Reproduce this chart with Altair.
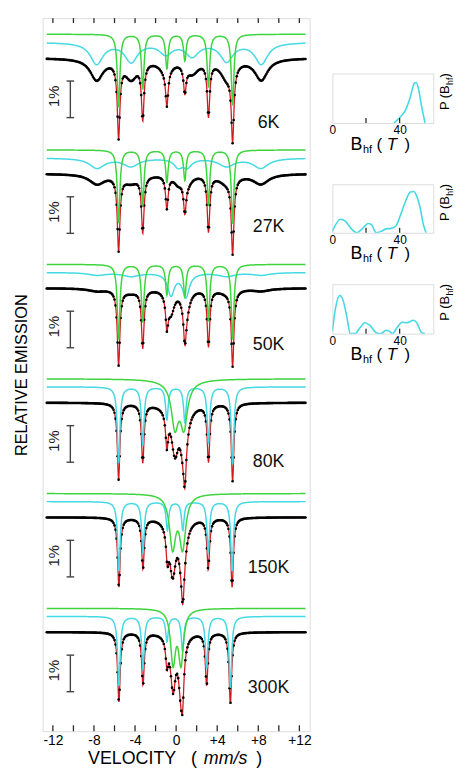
import altair as alt
import numpy as np
import pandas as pd

FONT = "Liberation Sans"
GREEN = "#3ed43e"
CYAN = "#44d9e3"
RED = "#d01c1c"
INK = "#2a2a2a"

# ---------------- main panel: Mossbauer spectra ----------------
temps = ["6K", "27K", "50K", "80K", "150K", "300K"]
data_base = [1.09, 4.255, 7.384, 10.514, 13.65, 16.79]   # % below frame top
label_drop = [1.78, 1.46, 1.55, 1.62, 1.39, 1.53]       # temp label below baseline (%)
GREEN_LIFT = 0.65
CYAN_LIFT = 0.43

# green sub-spectrum lines: position (mm/s), depth (%), half width (mm/s)
green_pos = {
    "6K": [-5.6, -3.25, -0.9, 0.85, 3.15, 5.5],
    "27K": [-5.6, -3.25, -0.9, 0.85, 3.15, 5.5],
    "50K": [-5.6, -3.25, -0.9, 0.85, 3.15, 5.5],
    "80K": [-0.12, 0.76, 0.3],
    "150K": [-0.34, 0.63],
    "300K": [-0.3, 0.47],
}
green_dep = {
    "6K": [2.0, 1.5, 0.95, 0.72, 1.45, 1.95],
    "27K": [2.0, 1.52, 0.88, 0.82, 1.52, 2.02],
    "50K": [2.05, 1.58, 0.83, 0.88, 1.55, 2.05],
    "80K": [1.15, 1.15, 0.12],
    "150K": [1.42, 1.42],
    "300K": [1.44, 1.44],
}
green_hw = {
    "6K": [0.15, 0.15, 0.15, 0.15, 0.15, 0.15],
    "27K": [0.15, 0.15, 0.15, 0.15, 0.15, 0.15],
    "50K": [0.15, 0.15, 0.15, 0.15, 0.15, 0.15],
    "80K": [0.4, 0.4, 1.5],
    "150K": [0.365, 0.365],
    "300K": [0.29, 0.29],
}
# cyan sub-spectrum lines
cyan_pos = {
    "6K": [-7.74, -4.38, -1.0, 1.56, 4.92, 8.29],
    "27K": [-7.7, -4.4, 0.2, 1.1, 4.9, 8.25],
    "50K": [-7.7, -4.4, -0.5, 0.95, 4.9, 8.3],
    "80K": [-5.6, -3.25, -0.9, 0.85, 3.15, 5.5],
    "150K": [-5.57, -3.23, -0.85, 0.65, 3.13, 5.45],
    "300K": [-5.57, -3.23, -0.89, 0.63, 2.97, 5.28],
}
cyan_dep = {
    "6K": [0.58, 0.52, 0.3, 0.36, 0.5, 0.58],
    "27K": [0.27, 0.22, 0.22, 0.22, 0.22, 0.27],
    "50K": [0.07, 0.1, 0.6, 0.65, 0.1, 0.07],
    "80K": [2.08, 1.6, 0.9, 0.95, 1.55, 2.12],
    "150K": [1.9, 1.38, 0.78, 0.78, 1.38, 1.9],
    "300K": [1.9, 1.42, 0.68, 0.95, 1.42, 1.95],
}
cyan_hw = {
    "6K": [0.75, 0.75, 0.75, 0.75, 0.75, 0.75],
    "27K": [0.9, 0.9, 0.5, 0.5, 0.9, 0.9],
    "50K": [1.0, 1.0, 0.4, 0.4, 1.0, 1.0],
    "80K": [0.15, 0.15, 0.15, 0.15, 0.15, 0.15],
    "150K": [0.15, 0.15, 0.15, 0.15, 0.15, 0.15],
    "300K": [0.15, 0.15, 0.15, 0.15, 0.15, 0.15],
}

vel_labels = [-12, -8, -4, 0, 4, 8, 12]
vel_ticks = [-12, -10, -8, -6, -4, -2, 0, 2, 4, 6, 8, 10, 12]

# ---------------- right panels: P(Bhf) ----------------
pB6_B = [36.7, 40.6, 43.5, 46.4, 48.7, 49.9, 51.2, 53.1, 55.1]
pB6_P = [0.0, 0.13, 0.26, 0.53, 0.8, 0.82, 0.69, 0.33, 0.0]
pB27_B = [0, 4.8, 7.7, 11.6, 14.5, 17.4, 21.3, 23.2, 26.1, 29, 31.9, 34.8, 37.7,
          40.6, 43.5, 46.4, 48.3, 50.2, 52.2, 54.1, 55.7]
pB27_P = [0.03, 0.28, 0.24, 0.07, 0.0, 0.07, 0.19, 0.17, 0.0, 0.03, 0.08, 0.09, 0.14,
          0.37, 0.65, 0.84, 0.85, 0.75, 0.51, 0.17, 0.0]
pB50_B = [0, 1.9, 4.3, 6.2, 8.7, 10.6, 13.5, 16.4, 19.3, 22.2, 26.1, 29, 31.9, 33.8,
          35.7, 38.6, 41.5, 44.4, 48.3, 50.2, 53.1, 55]
pB50_P = [0.05, 0.52, 0.77, 0.69, 0.32, 0.0, 0.0, 0.12, 0.22, 0.17, 0.02, 0.0, 0.07, 0.05,
          0.0, 0.13, 0.23, 0.22, 0.27, 0.22, 0.02, 0.0]
bhf_labels = [0, 40]
bhf_ticks = [20, 40]


def lor(v, pos, dep, hw):
    out = np.zeros_like(v)
    for p, d, w in zip(pos, dep, hw):
        out = out + d / (1.0 + ((v - p) / w) ** 2)
    return out


v_fit = np.round(np.arange(-12.6, 12.6001, 0.03), 3)
v_chan = np.round(np.arange(-12.6, 12.6001, 0.1), 2)

g_rows, c_rows, m_rows, d_rows = [], [], [], []
for t, b in zip(temps, data_base):
    g = lor(v_fit, green_pos[t], green_dep[t], green_hw[t])
    c = lor(v_fit, cyan_pos[t], cyan_dep[t], cyan_hw[t])
    g_rows.append(pd.DataFrame({"v": v_fit, "y": -(b - GREEN_LIFT + g), "t": t}))
    c_rows.append(pd.DataFrame({"v": v_fit, "y": -(b - CYAN_LIFT + c), "t": t}))
    m_rows.append(pd.DataFrame({"v": v_fit, "y": -(b + g + c), "t": t}))
    gd = lor(v_chan, green_pos[t], green_dep[t], green_hw[t])
    cd = lor(v_chan, cyan_pos[t], cyan_dep[t], cyan_hw[t])
    d_rows.append(pd.DataFrame({"v": v_chan, "y": -(b + gd + cd), "t": t}))
green_df = pd.concat(g_rows)
cyan_df = pd.concat(c_rows)
model_df = pd.concat(m_rows)
data_df = pd.concat(d_rows)

BAR_V = -10.3
BAR_CAP = 0.37
bar_df = pd.DataFrame({
    "t": temps,
    "yt": [-(b + 0.63) for b in data_base],
    "yb": [-(b + 1.63) for b in data_base],
    "ym": [-(b + 1.05) for b in data_base],
    "xb": BAR_V, "xl": BAR_V - BAR_CAP, "xr": BAR_V + BAR_CAP, "xt": -11.9,
    "pct": "1%",
})
lab_df = pd.DataFrame({
    "t": temps,
    "y": [-(b + d) for b, d in zip(data_base, label_drop)],
    "x": 9.0,
})
tick_df = pd.DataFrame({"v": vel_ticks})

W, H = 270, 721
xsc = alt.Scale(domain=[-13, 13], nice=False, zero=False)
ysc = alt.Scale(domain=[-19.5, 0], nice=False, zero=False)
xaxis = alt.Axis(values=vel_labels,
                 labelExpr="datum.value > 0 ? '+' + datum.value : (datum.value < 0 ? '-' + abs(datum.value) : '0')",
                 ticks=False, domain=False, grid=False, labelFont=FONT, labelFontSize=14,
                 labelColor="black", labelPadding=2, labelFlush=False, title=None)
yaxis = alt.Axis(title="RELATIVE EMISSION", labels=False, ticks=False, domain=False, grid=False,
                 titleFont=FONT, titleFontSize=16.5, titleFontWeight="normal", titleColor="black",
                 titleAngle=270, titleX=-21.3, titleY=360.5, titleAlign="center",
                 titleBaseline="middle")


def fx(f):
    return alt.X(f, type="quantitative", scale=xsc, axis=xaxis)


def fy(f):
    return alt.Y(f, type="quantitative", scale=ysc, axis=yaxis)


red_line = alt.Chart(model_df).mark_line(color=RED, strokeWidth=1.3).encode(
    x=fx("v"), y=fy("y"), detail="t:N")
pts = alt.Chart(data_df).mark_circle(color="black", size=7, opacity=1).encode(
    x=fx("v"), y=fy("y"), detail="t:N")
cyan_line = alt.Chart(cyan_df).mark_line(color=CYAN, strokeWidth=1.5).encode(
    x=fx("v"), y=fy("y"), detail="t:N")
green_line = alt.Chart(green_df).mark_line(color=GREEN, strokeWidth=1.5).encode(
    x=fx("v"), y=fy("y"), detail="t:N")
bar_v = alt.Chart(bar_df).mark_rule(color="#444", strokeWidth=1.4).encode(
    x=fx("xb"), y=fy("yt"), y2="yb")
bar_top = alt.Chart(bar_df).mark_rule(color="#444", strokeWidth=1.4).encode(
    x=fx("xl"), x2="xr", y=fy("yt"))
bar_bot = alt.Chart(bar_df).mark_rule(color="#444", strokeWidth=1.4).encode(
    x=fx("xl"), x2="xr", y=fy("yb"))
pct_txt = alt.Chart(bar_df).mark_text(font=FONT, fontSize=15, angle=270, align="center",
                                      baseline="middle", color="#222").encode(
    x=fx("xt"), y=fy("ym"), text="pct:N")
temp_txt = alt.Chart(lab_df).mark_text(font=FONT, fontSize=18, align="center",
                                       baseline="middle", color="#111").encode(
    x=fx("x"), y=fy("y"), text="t:N")
tick_top = alt.Chart(tick_df).mark_rule(color=INK, strokeWidth=1.3).encode(
    x=fx("v"), y=alt.value(0), y2=alt.value(5))
tick_bot = alt.Chart(tick_df).mark_rule(color=INK, strokeWidth=1.3).encode(
    x=fx("v"), y=alt.value(H), y2=alt.value(H - 6))

one = pd.DataFrame({"a": [0]})


def txt(s, x, y, size, style="normal", angle=0):
    return alt.Chart(one).mark_text(text=s, font=FONT, fontSize=size, fontStyle=style,
                                    angle=angle, align="left", baseline="alphabetic",
                                    color="black").encode(x=alt.value(x), y=alt.value(y))


vel_title = [
    txt("VELOCITY", 46, H + 33.5, 18),
    txt("(", 150, H + 33.5, 18),
    txt("mm/s", 163, H + 33.5, 18, style="italic"),
    txt(")", 216, H + 33.5, 18),
]

main = alt.layer(red_line, pts, cyan_line, green_line, bar_v, bar_top, bar_bot,
                 pct_txt, temp_txt, tick_top, tick_bot, *vel_title).properties(width=W, height=H)


# ---------------- right column ----------------
PW = 102


def panel(B, P, h):
    df = pd.DataFrame({"B": B, "P": P})
    bsc = alt.Scale(domain=[0, 60], nice=False, zero=False)
    bax = alt.Axis(values=bhf_labels, ticks=False, domain=False, grid=False, labelFont=FONT,
                   labelFontSize=12, labelColor="black", labelPadding=2, labelFlush=False,
                   title=None)
    line = alt.Chart(df).mark_line(color=CYAN, strokeWidth=1.6, interpolate="monotone",
                                   clip=True).encode(
        x=alt.X("B:Q", scale=bsc, axis=bax),
        y=alt.Y("P:Q", scale=alt.Scale(domain=[0, 1], nice=False), axis=None))
    tk = alt.Chart(pd.DataFrame({"B": bhf_ticks})).mark_rule(color=INK, strokeWidth=1.3).encode(
        x=alt.X("B:Q", scale=bsc, axis=bax), y=alt.value(h), y2=alt.value(h - 5))
    labs = [
        txt("B", 18.4, h + 27, 18),
        txt("hf", 31, h + 30, 11),
        txt("(", 44.5, h + 27, 17),
        txt("T", 55, h + 27, 17, style="italic"),
        txt(")", 73, h + 27, 17),
        txt("P (B", PW + 16, 37, 13, angle=270),
        txt("hf", PW + 19.5, 37 - 25.5, 9, angle=270),
        txt(")", PW + 16, 37 - 33, 13, angle=270),
    ]
    return alt.layer(line, tk, *labs).properties(width=PW, height=h)


def spacer(h):
    return alt.Chart(one).mark_point(opacity=0, size=1).encode(
        x=alt.value(5), y=alt.value(h / 2)).properties(
        width=10, height=h, view=alt.ViewBackground(stroke="transparent"))


right = alt.vconcat(spacer(54), panel(pB6_B, pB6_P, 50), spacer(26), panel(pB27_B, pB27_P, 49),
                    spacer(16), panel(pB50_B, pB50_P, 50), spacing=0)

chart = alt.hconcat(main, right, spacing=17).properties(
    padding={"left": 5, "top": 4, "right": 2, "bottom": 0}
).configure_view(stroke=INK, strokeWidth=1.5).configure(font=FONT)

chart.save("out.html", embed_options={"renderer": "svg", "actions": False})
